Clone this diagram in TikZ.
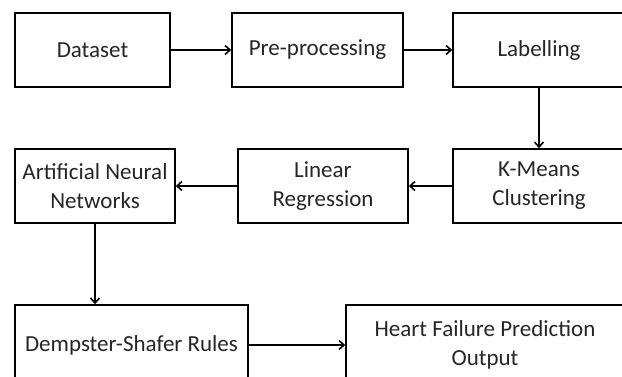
\documentclass[tikz,border=0pt]{standalone}
\usepackage{fontspec}
\setmainfont{Carlito}
\usetikzlibrary{arrows.meta}
\begin{document}
\begin{tikzpicture}[x=1pt,y=-1pt,
  box/.style={draw=black, line width=1.6pt, rectangle, inner sep=0pt, align=center,
    text=black!85, font=\fontsize{23}{29}\selectfont},
  conn/.style={draw=black, line width=1.6pt, -{Straight Barb[length=5pt,width=9pt,line width=1.6pt]}}]
\useasboundingbox (0,0) rectangle (622,376);
\clip (0,0) rectangle (622,376);
\fill[white] (0,0) rectangle (622,376);
\node[box, minimum width=155pt, minimum height=74pt] (ds) at (92.5,50) {Dataset};
\node[box, minimum width=171pt, minimum height=74pt] (pre) at (317.5,50) {Pre-processing};
\node[box, minimum width=172pt, minimum height=74pt] (lab) at (539,50) {Labelling};
\node[box, minimum width=160pt, minimum height=74pt] (ann) at (95,186) {Artificial Neural\\Networks};
\node[box, minimum width=170pt, minimum height=74pt] (lr) at (323,186) {Linear\\Regression};
\node[box, minimum width=172pt, minimum height=74pt] (km) at (539,186) {K-Means\\Clustering};
\node[box, minimum width=233pt, minimum height=80pt] (dsr) at (131.5,345) {Dempster-Shafer Rules};
\node[box, minimum width=278pt, minimum height=80pt] (hf) at (485,345) {Heart Failure Prediction\\Output};
\draw[conn] (ds) -- (pre);
\draw[conn] (pre) -- (lab);
\draw[conn] (lab) -- (km);
\draw[conn] (km) -- (lr);
\draw[conn] (lr) -- (ann);
\draw[conn] (ann.south) -- (ann.south |- dsr.north);
\draw[conn] (dsr) -- (hf);
\end{tikzpicture}
\end{document}
